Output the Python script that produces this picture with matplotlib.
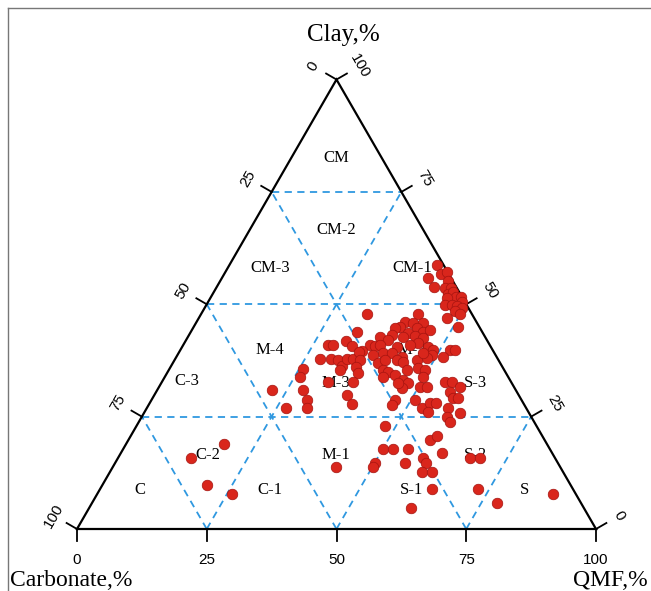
import numpy as np
import matplotlib.pyplot as plt

# sample compositions: QMF %, Clay % (carbonate = rest)
qmf = [40.0, 39.7, 41.8, 42.7, 43.9, 41.9, 44.1, 45.3, 45.4, 46.1, 47.2, 45.6,
       48.2, 49.0, 46.0, 47.4, 48.4, 49.6, 48.6, 49.9, 47.9, 51.0,
       32.0, 41.8, 40.2, 41.8, 43.8, 39.8, 43.2, 44.8, 39.0, 42.0, 41.5, 43.7,
       45.5, 45.9, 32.0, 37.1, 39.1, 38.9, 28.0, 28.9, 30.9, 32.7, 36.0, 37.1,
       38.0, 41.5, 45.0, 43.8, 47.4, 48.7, 49.0, 35.1, 39.4, 41.1, 52.0, 52.9,
       51.4, 48.4, 43.5, 27.9, 30.0, 31.5, 33.0, 33.1, 34.3, 34.6, 35.7, 35.8,
       36.8, 25.7, 33.0, 37.7, 39.6, 40.5, 41.3, 42.5, 42.9, 44.2, 45.9, 46.7,
       47.8, 47.1, 42.1, 44.2, 46.2, 47.6, 46.9, 49.4, 49.8, 50.3, 51.6, 26.1,
       32.0, 36.8, 45.6, 28.0, 30.0, 26.8, 30.9, 37.1, 39.1, 47.0, 46.9, 50.8,
       53.1, 54.0, 55.2, 54.6, 54.5, 55.9, 58.0, 56.7, 57.9, 58.9, 58.0, 60.9,
       58.9, 60.0, 22.1, 47.9,
       58.1, 59.0, 50.1, 52.0, 54.9, 61.8, 58.8, 59.9, 55.9, 50.1, 50.1, 60.1,
       62.0, 67.8, 69.7, 64.0, 72.8, 78.0, 87.8, 62.0, 43.0,
       18.9, 14.1, 20.1, 26.0]
clay = [58.7, 55.8, 56.7, 57.2, 55.2, 53.8, 53.6, 53.6, 52.3, 52.7, 51.6, 51.4,
        51.6, 50.5, 49.8, 49.8, 49.6, 49.2, 48.5, 47.8, 46.9, 44.9,
        47.8, 47.8, 46.1, 45.8, 45.8, 44.9, 44.7, 43.8, 44.7, 43.6, 42.7, 42.9,
        42.5, 44.3, 43.8, 42.7, 43.2, 42.0, 40.9, 40.9, 41.8, 40.7, 40.9, 40.7,
        40.9, 40.5, 41.4, 40.9, 40.5, 39.8, 38.7, 39.6, 39.2, 39.2, 39.8, 39.8,
        38.3, 38.0, 38.3, 37.8, 37.8, 37.6, 36.3, 37.8, 37.8, 39.4, 37.6, 36.0,
        34.7, 35.6, 35.4, 38.7, 36.9, 37.6, 35.4, 34.9, 37.6, 37.2, 35.4, 37.6,
        35.8, 39.2, 33.8, 34.3, 33.1, 32.5, 31.4, 35.4, 33.8, 31.6, 31.6, 33.8,
        32.7, 32.7, 32.5, 30.9, 28.7, 26.9, 26.9, 29.8, 27.8, 28.7, 27.6, 28.7,
        26.9, 28.0, 28.0, 26.0, 32.7, 32.7, 31.6, 30.5, 29.1, 29.1, 26.9, 25.8,
        24.9, 23.8, 30.9, 22.9,
        19.8, 20.7, 17.8, 17.8, 17.8, 16.9, 15.8, 14.7, 14.7, 14.7, 13.8, 12.7,
        12.7, 15.8, 15.8, 8.9, 8.9, 5.8, 7.8, 4.7, 13.8,
        18.9, 15.8, 9.8, 7.8]

tick_vals = [0, 25, 50, 75, 100]
grid_vals = [25, 50, 75]

# class names and where they sit (x, y in triangle units, base = 1)
class_names = ["CM", "CM-2", "CM-3", "CM-1", "C-3", "M-4", "M-3", "M-2", "S-3",
               "C", "C-2", "C-1", "M-1", "S-1", "S-2", "S"]
class_x = [0.499, 0.499, 0.372, 0.645, 0.212, 0.372, 0.499, 0.645, 0.767,
           0.121, 0.252, 0.372, 0.499, 0.645, 0.767, 0.863]
class_y = [0.715, 0.576, 0.503, 0.503, 0.285, 0.345, 0.281, 0.345, 0.281,
           0.075, 0.143, 0.075, 0.143, 0.075, 0.143, 0.075]

H = np.sqrt(3) / 2


def to_xy(q, c):
    q = np.asarray(q, dtype=float)
    c = np.asarray(c, dtype=float)
    return q / 100 + c / 200, c / 100 * H


fig = plt.figure(figsize=(6.51, 5.91), dpi=100)
ax = fig.add_axes([0, 0, 1, 1])
ax.set_xlim(-77 / 519, 574 / 519)
ax.set_ylim(-62 / 519, 529 / 519)
ax.axis("off")

serif = "Liberation Serif"
sans = "Liberation Sans"
blue = "#2f98e0"

# frame of the picture
fig.add_artist(plt.Line2D([8 / 651, 8 / 651], [0, 1 - 8 / 591], color="#777777", lw=1.0))
fig.add_artist(plt.Line2D([8 / 651, 1], [1 - 8 / 591, 1 - 8 / 591], color="#777777", lw=1.0))

# dashed class boundaries
for v in grid_vals:
    f = v / 100
    # constant clay
    ax.plot([f / 2, 1 - f / 2], [f * H, f * H], ls=(0, (4, 3)), color=blue, lw=1.3)
    # constant QMF
    ax.plot([f, f + (1 - f) / 2], [0, (1 - f) * H], ls=(0, (4, 3)), color=blue, lw=1.3)
    # constant carbonate
    ax.plot([1 - f, (1 - f) / 2], [0, (1 - f) * H], ls=(0, (4, 3)), color=blue, lw=1.3)

# triangle outline
ax.plot([0, 1, 0.5, 0], [0, 0, H, 0], color="black", lw=1.6, solid_joinstyle="miter")

tl = 12 / 519
for v in tick_vals:
    f = v / 100
    # bottom: QMF
    ax.plot([f, f], [0, -tl], color="black", lw=1.3)
    ax.text(f, -31 / 519, str(v), ha="center", va="center", fontsize=11, family=sans)
    # left side: carbonate
    lx, ly = (1 - f) / 2, (1 - f) * H
    dx, dy = np.cos(np.radians(150)), np.sin(np.radians(150))
    ax.plot([lx, lx + tl * dx], [ly, ly + tl * dy], color="black", lw=1.3)
    ax.text(lx + 27 / 519 * dx, ly + 27 / 519 * dy, str(v), ha="center", va="center",
            fontsize=11, family=sans, rotation=60)
    # right side: clay
    rx, ry = 1 - f / 2, f * H
    dx, dy = np.cos(np.radians(30)), np.sin(np.radians(30))
    ax.plot([rx, rx + tl * dx], [ry, ry + tl * dy], color="black", lw=1.3)
    ax.text(rx + 27 / 519 * dx, ry + 27 / 519 * dy, str(v), ha="center", va="center",
            fontsize=11, family=sans, rotation=-60)

ax.text(0.5125, 494 / 519, "Clay,%", ha="center", va="center", fontsize=18, family=serif)
ax.text(-67 / 519, -52 / 519, "Carbonate,%", ha="left", va="center", fontsize=17, family=serif)
ax.text(571 / 519, -52 / 519, "QMF,%", ha="right", va="center", fontsize=17, family=serif)

for name, x, y in zip(class_names, class_x, class_y):
    ax.text(x, y, name, ha="center", va="center", fontsize=12, family=serif)

px, py = to_xy(qmf, clay)
ax.scatter(px, py, s=58, color="#d9261c", edgecolors="#a51410", linewidths=0.5, zorder=5)

fig.savefig("out.png", dpi=100)
